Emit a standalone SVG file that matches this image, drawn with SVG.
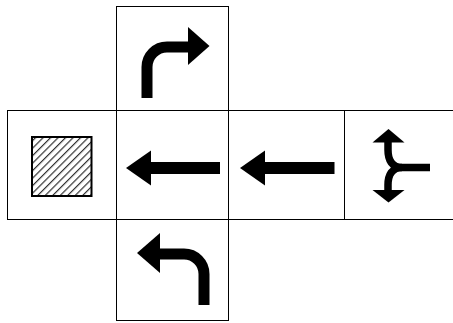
<svg xmlns="http://www.w3.org/2000/svg" width="453" height="323" viewBox="0 0 453 323">
<style>
.cell{fill:#fff;stroke:#000;stroke-width:1}
.shaft{fill:none;stroke:#000;stroke-width:11}
.thin{fill:none;stroke:#000;stroke-width:7.5}
.head{fill:#000}
</style>
<defs>
<pattern id="hatch" patternUnits="userSpaceOnUse" width="5.3" height="5.3" patternTransform="rotate(45)">
<rect width="5.3" height="5.3" fill="#fff"/>
<line x1="0" y1="0" x2="0" y2="5.3" stroke="#333" stroke-width="2.4"/>
</pattern>
</defs>
<rect width="453" height="323" fill="#fff"/>
<g id="top">
<rect class="cell" x="116.5" y="6.5" width="112" height="104"/>
<path class="shaft" d="M147,98 V67 A20,20 0 0 1 167,47 H190"/>
<polygon class="head" points="188,27 209.5,46 188,65"/>
</g>
<g id="left">
<rect class="cell" x="7.5" y="110.5" width="109" height="109"/>
<rect x="32" y="137" width="59.5" height="59" fill="url(#hatch)" stroke="#000" stroke-width="2"/>
</g>
<g id="center">
<rect class="cell" x="116.5" y="110.5" width="112" height="109"/>
<line x1="149" y1="168" x2="220" y2="168" stroke="#000" stroke-width="12"/>
<polygon class="head" points="151,150.5 126,168 151,185.5"/>
</g>
<g id="right">
<rect class="cell" x="228.5" y="110.5" width="116" height="109"/>
<line x1="263" y1="168" x2="334.5" y2="168" stroke="#000" stroke-width="12"/>
<polygon class="head" points="265,150.5 240,168 265,185.5"/>
</g>
<g id="fork">
<rect class="cell" x="344.5" y="110.5" width="112" height="109"/>
<path class="thin" d="M430,167.5 H402 C392,167.5 388,160 388,150 V140"/>
<path class="thin" d="M402,167.5 C392,167.5 388,175 388,185 V192"/>
<polygon class="head" points="372.5,142.5 388.5,129 404.5,142.5"/>
<polygon class="head" points="372.5,190 388.5,202.5 404.5,190"/>
</g>
<g id="bottom">
<rect class="cell" x="116.5" y="219.5" width="112" height="101"/>
<path class="shaft" d="M204,305 V274 A20,20 0 0 0 184,254 H158"/>
<polygon class="head" points="160,233 137,253 160,273"/>
</g>
</svg>
